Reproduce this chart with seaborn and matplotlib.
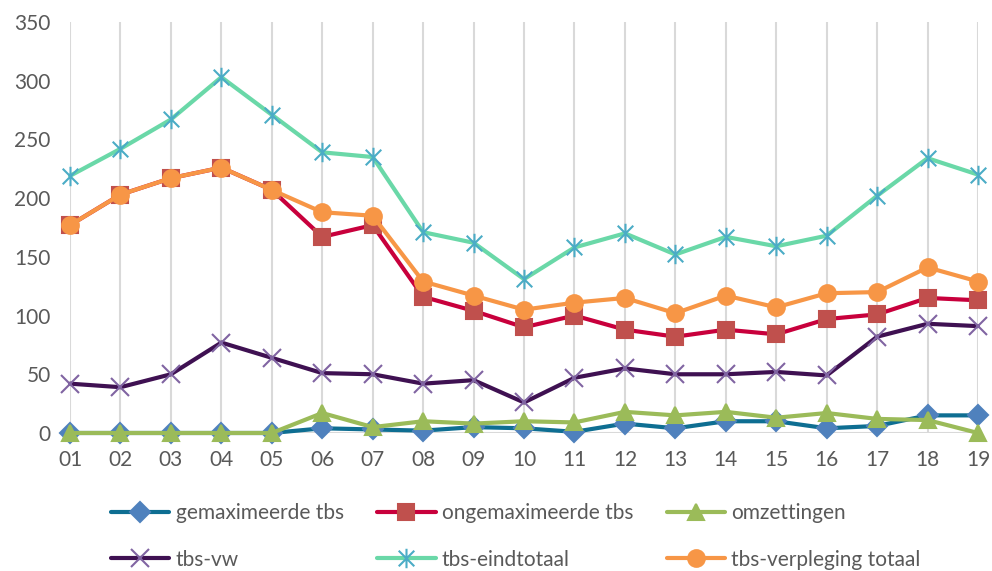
import matplotlib
matplotlib.use("Agg")
import matplotlib.pyplot as plt
import seaborn as sns
from matplotlib.path import Path

# data
months = ["01", "02", "03", "04", "05", "06", "07", "08", "09", "10",
          "11", "12", "13", "14", "15", "16", "17", "18", "19"]
gemaximeerde = [0, 0, 0, 0, 0, 4, 3, 2, 5, 4, 1, 8, 4, 10, 10, 4, 6, 15, 15]
ongemaximeerde = [177, 203, 217, 226, 207, 167, 177, 116, 104, 90,
                  100, 88, 82, 88, 84, 97, 101, 115, 113]
omzettingen = [0, 0, 0, 0, 0, 17, 5, 10, 8, 10, 9, 18, 15, 18, 13, 17, 12, 11, 0]
tbs_vw = [42, 39, 50, 77, 64, 51, 50, 42, 45, 26, 47, 55, 50, 50, 52, 49, 82, 93, 91]
eindtotaal = [219, 242, 267, 303, 271, 239, 235, 171, 162, 131,
              158, 170, 152, 167, 159, 168, 202, 234, 220]
verpleging = [177, 203, 217, 226, 207, 188, 185, 129, 117, 105,
              111, 115, 102, 117, 107, 119, 120, 141, 129]

# excel style "star" marker: an X with a vertical bar
star = Path([(-1, -1), (1, 1), (-1, 1), (1, -1), (0, -1.25), (0, 1.25)],
            [Path.MOVETO, Path.LINETO, Path.MOVETO, Path.LINETO, Path.MOVETO, Path.LINETO])

series = [
    ("gemaximeerde tbs", gemaximeerde, "#0E6E92", "D", "#4F81BD", "#4F81BD", 10),
    ("ongemaximeerde tbs", ongemaximeerde, "#C8003C", "s", "#C0504D", "#C0504D", 11),
    ("omzettingen", omzettingen, "#9BBB59", "^", "#9BBB59", "#9BBB59", 11),
    ("tbs-vw", tbs_vw, "#3F1152", "x", "#8064A2", "#8064A2", 13),
    ("tbs-eindtotaal", eindtotaal, "#6AD8A8", star, "none", "#4BACC6", 14),
    ("tbs-verpleging totaal", verpleging, "#F79646", "o", "#F79646", "#F79646", 12),
]

sns.set_style("white")
plt.rcParams['font.family'] = ['Lato', 'DejaVu Sans']

fig = plt.figure(figsize=(9.92, 5.71), dpi=100)
ax = fig.add_axes([0.0706, 0.2417, 0.9153, 0.7198])

for name, vals, lc, mk, mfc, mec, ms in series:
    sns.lineplot(x=months, y=vals, ax=ax, label=name, color=lc, lw=3,
                 marker=mk, markersize=ms, markerfacecolor=mfc,
                 markeredgecolor=mec, markeredgewidth=1.5, sort=False,
                 clip_on=False)

ax.set_xlim(0, 18)
ax.set_ylim(0, 350)
ax.set_yticks(range(0, 351, 50))
ax.grid(axis="x", color="#D9D9D9", lw=1.5)
ax.grid(axis="y", visible=False)
ax.axhline(0, color="#D9D9D9", lw=1.5, zorder=0.5)
for s in ax.spines.values():
    s.set_visible(False)
ax.tick_params(axis="y", length=0, pad=14, labelsize=15, labelcolor="#595959")
ax.tick_params(axis="x", length=0, pad=12, labelsize=15, labelcolor="#595959")
ax.set_xlabel("")
ax.set_ylabel("")

handles, labels = ax.get_legend_handles_labels()
ax.get_legend().remove()
# matplotlib fills legend columns first, reorder so rows read like the reference
order = [0, 3, 1, 4, 2, 5]
fig.legend([handles[i] for i in order], [labels[i] for i in order],
           loc="center", bbox_to_anchor=(0.52, 0.0604),
           ncol=3, frameon=False, fontsize=15, handlelength=2.8,
           handletextpad=0.3, columnspacing=1.6, labelspacing=1.25,
           labelcolor="#595959")

plt.savefig("out.png", dpi=100)
